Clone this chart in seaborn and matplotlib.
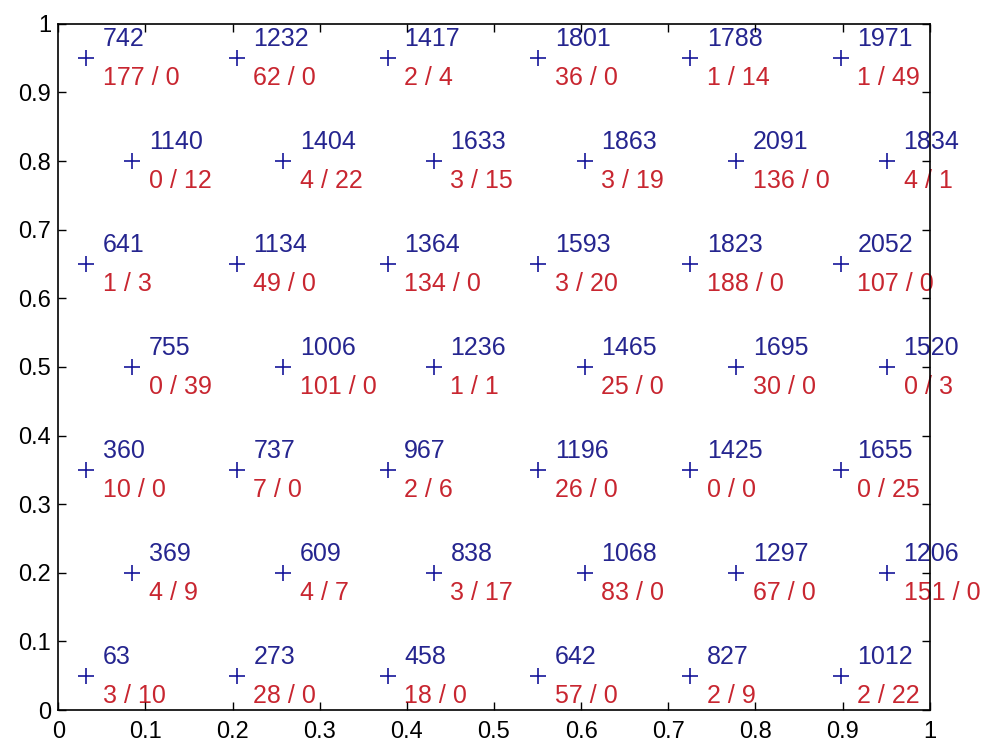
import numpy as np
import pandas as pd
import matplotlib
matplotlib.use("Agg")
import matplotlib.pyplot as plt
import seaborn as sns

# Gitterpositioner (hexagonalt rutnät)
row_y = [0.95, 0.80, 0.65, 0.50, 0.35, 0.20, 0.05]
x_even = [0.032, 0.205, 0.378, 0.551, 0.725, 0.898]
x_odd = [0.085, 0.258, 0.431, 0.604, 0.778, 0.951]

# Blå etiketter (nodnummer), rad för rad uppifrån
ids = [
    [742, 1232, 1417, 1801, 1788, 1971],
    [1140, 1404, 1633, 1863, 2091, 1834],
    [641, 1134, 1364, 1593, 1823, 2052],
    [755, 1006, 1236, 1465, 1695, 1520],
    [360, 737, 967, 1196, 1425, 1655],
    [369, 609, 838, 1068, 1297, 1206],
    [63, 273, 458, 642, 827, 1012],
]

# Röda etiketter "a / b"
counts_a = [
    [177, 62, 2, 36, 1, 1],
    [0, 4, 3, 3, 136, 4],
    [1, 49, 134, 3, 188, 107],
    [0, 101, 1, 25, 30, 0],
    [10, 7, 2, 26, 0, 0],
    [4, 4, 3, 83, 67, 151],
    [3, 28, 18, 57, 2, 2],
]
counts_b = [
    [0, 0, 4, 0, 14, 49],
    [12, 22, 15, 19, 0, 1],
    [3, 0, 0, 20, 0, 0],
    [39, 0, 1, 0, 0, 3],
    [0, 0, 6, 0, 0, 25],
    [9, 7, 17, 0, 0, 0],
    [10, 0, 0, 0, 9, 22],
]

# Bygg tabell
records = []
for i, y in enumerate(row_y):
    xs = x_even if i % 2 == 0 else x_odd
    for j, x in enumerate(xs):
        records.append({"x": x, "y": y, "id": ids[i][j],
                        "a": counts_a[i][j], "b": counts_b[i][j]})
df = pd.DataFrame(records)

plt.rcParams["font.family"] = ["Liberation Sans", "DejaVu Sans"]

blue_txt = "#25258f"
blue_mk = "#16169a"
red_txt = "#c82630"

fig = plt.figure(figsize=(9.87, 7.42), dpi=100)
ax = fig.add_axes([0.059, 0.043, 0.883, 0.925])

sns.scatterplot(data=df, x="x", y="y", marker="+", s=130, color=blue_mk,
                linewidth=1.2, ax=ax, zorder=1)

for _, r in df.iterrows():
    ax.text(r["x"] + 0.019, r["y"] + 0.017, f"{int(r['id'])}",
            color=blue_txt, fontsize=18, va="baseline", ha="left", zorder=1)
    ax.text(r["x"] + 0.019, r["y"] - 0.012, f"{int(r['a'])} / {int(r['b'])}",
            color=red_txt, fontsize=18, va="top", ha="left", zorder=1)

ax.set_xlim(0, 1)
ax.set_ylim(0, 1)
ax.set_xticks(np.arange(0, 1.01, 0.1))
ax.set_yticks(np.arange(0, 1.01, 0.1))
ax.set_xticklabels(["0", "0.1", "0.2", "0.3", "0.4", "0.5", "0.6", "0.7", "0.8", "0.9", "1"])
ax.set_yticklabels(["0", "0.1", "0.2", "0.3", "0.4", "0.5", "0.6", "0.7", "0.8", "0.9", "1"])
ax.set_xlabel("")
ax.set_ylabel("")
ax.tick_params(direction="in", length=6, width=1, top=True, right=True,
               labelsize=17, colors="black")
ax.tick_params(axis="x", pad=8)
ax.tick_params(axis="y", pad=5)
for sp in ax.spines.values():
    sp.set_linewidth(1.2)
    sp.set_zorder(5)

fig.savefig("out.png", dpi=100)
